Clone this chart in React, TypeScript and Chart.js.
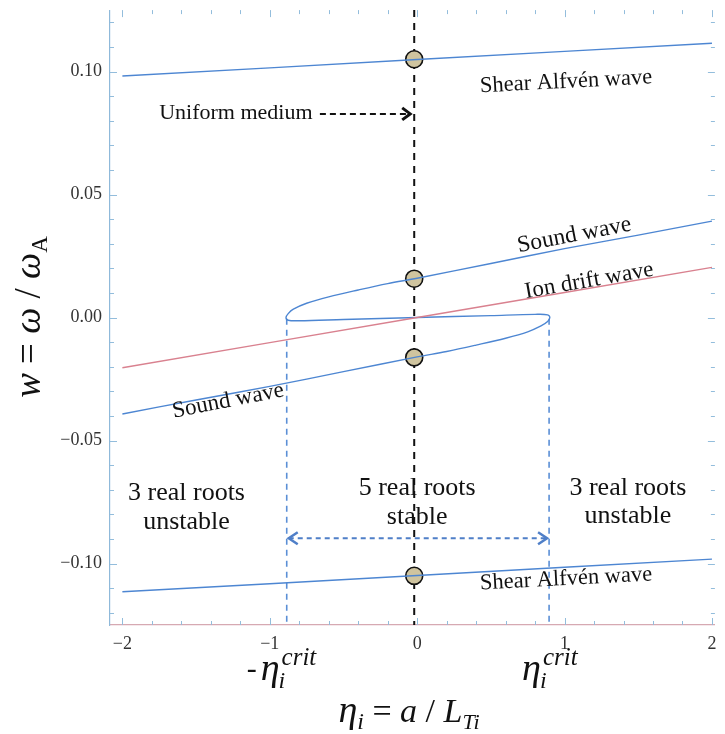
import React, { useEffect, useRef } from "react";
import { Chart, registerables } from "chart.js";
Chart.register(...registerables);

// ---- data ----
const alfvenEta = [-2, -1, 0, 1, 2];
const alfvenUpperW = [0.0982, 0.1015, 0.1049, 0.1082, 0.1115];
const alfvenLowerW = [-0.1115, -0.1082, -0.1049, -0.1015, -0.0982];

const ionDriftEta = [-2, -1, 0, 1, 2];
const ionDriftW = [-0.0204, -0.0102, 0, 0.0102, 0.0204];

const soundEta = [
  -2.0, -1.5, -1.0, -0.5, 0.0, 0.2, 0.4, 0.6, 0.75, 0.84, 0.885, 0.9,
  0.885, 0.8, 0.5, 0.0, -0.5, -0.8, -0.875, -0.89,
  -0.875, -0.84, -0.75, -0.6, -0.4, -0.2, 0.0, 0.5, 1.0, 1.5, 2.0,
];
const soundW = [
  -0.0392, -0.0335, -0.028, -0.022, -0.016, -0.0138, -0.0112, -0.0084, -0.0058, -0.0034, -0.0016, 0.0,
  0.0011, 0.0013, 0.0008, 0.0, -0.0008, -0.0013, -0.0011, 0.0,
  0.0016, 0.0034, 0.0058, 0.0084, 0.0112, 0.0138, 0.016, 0.022, 0.028, 0.0335, 0.0392,
];

const uniformEta = -0.02;
const rootW = [0.105, 0.0158, -0.0162, -0.105];
const critEta = [-0.885, 0.895];

const xTickValues = [-2, -1, 0, 1, 2];
const yTickValues = [-0.1, -0.05, 0, 0.05, 0.1];

const SERIF = '"Liberation Serif", "Times New Roman", Times, serif';
const BLUE = "#4d86d2";
const PINK = "#d9818f";

type Part = { t: string; size: number; italic?: boolean; dy?: number };

function drawRich(ctx: CanvasRenderingContext2D, parts: Part[], cx: number, cy: number) {
  let total = 0;
  const widths = parts.map((p) => {
    ctx.font = `${p.italic ? "italic " : ""}${p.size}px ${SERIF}`;
    const w = ctx.measureText(p.t).width;
    total += w;
    return w;
  });
  let x = cx - total / 2;
  ctx.textAlign = "left";
  ctx.textBaseline = "alphabetic";
  parts.forEach((p, i) => {
    ctx.font = `${p.italic ? "italic " : ""}${p.size}px ${SERIF}`;
    ctx.fillText(p.t, x, cy + (p.dy || 0));
    x += widths[i];
  });
}

function line(ctx: CanvasRenderingContext2D, x1: number, y1: number, x2: number, y2: number) {
  ctx.beginPath();
  ctx.moveTo(x1, y1);
  ctx.lineTo(x2, y2);
  ctx.stroke();
}

function etaCrit(ctx: CanvasRenderingContext2D, x: number, base: number, minus: boolean) {
  let cx = x;
  ctx.textAlign = "left";
  ctx.textBaseline = "alphabetic";
  if (minus) {
    ctx.font = `30px ${SERIF}`;
    ctx.fillText("-", cx, base - 2);
    cx += 14;
  }
  ctx.font = `italic 38px ${SERIF}`;
  ctx.fillText("η", cx, base);
  const ew = ctx.measureText("η").width;
  ctx.font = `italic 24px ${SERIF}`;
  ctx.fillText("i", cx + ew - 1, base + 8);
  ctx.font = `italic 25px ${SERIF}`;
  ctx.fillText("crit", cx + ew + 2, base - 15);
}

const annotPlugin = {
  id: "annot",
  beforeDatasetsDraw(chart: any) {
    const { ctx, chartArea: a, scales } = chart;
    const xs = scales.x;
    const ys = scales.y;
    ctx.save();
    // inner frame ticks
    ctx.strokeStyle = "#93bddc";
    ctx.lineWidth = 1;
    for (let i = -10; i <= 10; i++) {
      const v = i * 0.2;
      const px = Math.round(xs.getPixelForValue(v)) + 0.5;
      const len = i % 5 === 0 ? 7 : 4;
      line(ctx, px, a.bottom, px, a.bottom - len);
      line(ctx, px, a.top, px, a.top + len);
    }
    for (let i = -12; i <= 12; i++) {
      const v = i * 0.01;
      const py = Math.round(ys.getPixelForValue(v)) + 0.5;
      const len = i % 5 === 0 ? 7 : 4;
      line(ctx, a.left, py, a.left + len, py);
      line(ctx, a.right, py, a.right - len, py);
    }
    // black dashed vertical (uniform medium)
    const ux = xs.getPixelForValue(uniformEta);
    ctx.strokeStyle = "#111";
    ctx.lineWidth = 2;
    ctx.setLineDash([7, 6]);
    line(ctx, ux, a.top, ux, a.bottom);
    // blue dashed verticals at critical eta
    ctx.strokeStyle = "#5b8fd6";
    ctx.lineWidth = 1.6;
    ctx.setLineDash([6, 5]);
    critEta.forEach((e) => {
      const px = xs.getPixelForValue(e);
      line(ctx, px, ys.getPixelForValue(-0.0005), px, a.bottom);
    });
    // double arrow
    const ay = ys.getPixelForValue(-0.0897);
    const ax1 = xs.getPixelForValue(critEta[0]) + 2;
    const ax2 = xs.getPixelForValue(critEta[1]) - 2;
    ctx.strokeStyle = "#4f7fc8";
    ctx.lineWidth = 2;
    ctx.setLineDash([5, 4]);
    line(ctx, ax1, ay, ax2, ay);
    ctx.setLineDash([]);
    ctx.lineWidth = 2.5;
    ctx.beginPath();
    ctx.moveTo(ax1 + 9, ay - 6);
    ctx.lineTo(ax1, ay);
    ctx.lineTo(ax1 + 9, ay + 6);
    ctx.stroke();
    ctx.beginPath();
    ctx.moveTo(ax2 - 9, ay - 6);
    ctx.lineTo(ax2, ay);
    ctx.lineTo(ax2 - 9, ay + 6);
    ctx.stroke();
    // uniform medium arrow
    const uy = ys.getPixelForValue(0.0828);
    const ux1 = xs.getPixelForValue(-0.66);
    const ux2 = ux - 4;
    ctx.strokeStyle = "#111";
    ctx.lineWidth = 2;
    ctx.setLineDash([6, 4]);
    line(ctx, ux1, uy, ux2 - 4, uy);
    ctx.setLineDash([]);
    ctx.lineWidth = 3;
    ctx.beginPath();
    ctx.moveTo(ux2 - 8, uy - 6);
    ctx.lineTo(ux2, uy);
    ctx.lineTo(ux2 - 8, uy + 6);
    ctx.stroke();
    ctx.restore();
  },
  afterDatasetsDraw(chart: any) {
    const { ctx, scales } = chart;
    const xs = scales.x;
    const ys = scales.y;
    ctx.save();
    ctx.fillStyle = "#111";
    const rotText = (t: string, e: number, w: number, deg: number, size: number) => {
      const px = xs.getPixelForValue(e);
      const py = ys.getPixelForValue(w);
      ctx.save();
      ctx.translate(px, py);
      ctx.rotate((deg * Math.PI) / 180);
      ctx.font = `${size}px ${SERIF}`;
      ctx.textAlign = "center";
      ctx.textBaseline = "middle";
      ctx.fillText(t, 0, 0);
      ctx.restore();
    };
    rotText("Uniform medium", -1.23, 0.0832, 0, 22);
    rotText("Shear Alfvén wave", 1.01, 0.0958, -3, 22.5);
    rotText("Shear Alfvén wave", 1.01, -0.1063, -3, 22.5);
    rotText("Sound wave", 1.066, 0.0335, -11, 23.5);
    rotText("Ion drift wave", 1.167, 0.0149, -10, 23);
    rotText("Sound wave", -1.283, -0.0339, -11, 23);
    rotText("3 real roots", -1.565, -0.0715, 0, 26);
    rotText("unstable", -1.565, -0.0832, 0, 26);
    rotText("5 real roots", 0, -0.0695, 0, 26);
    rotText("stable", 0, -0.0812, 0, 26);
    rotText("3 real roots", 1.43, -0.0695, 0, 26);
    rotText("unstable", 1.43, -0.0808, 0, 26);
    ctx.restore();
  },
  afterDraw(chart: any) {
    const { ctx, scales } = chart;
    const xs = scales.x;
    ctx.save();
    ctx.fillStyle = "#111";
    const l = xs.getPixelForValue(critEta[0]);
    const r = xs.getPixelForValue(critEta[1]);
    etaCrit(ctx, l - 40, 680, true);
    etaCrit(ctx, r - 27, 680, false);
    // x title
    drawRich(ctx, [
      { t: "η", size: 38, italic: true },
      { t: "i", size: 24, italic: true, dy: 7 },
      { t: " = ", size: 34 },
      { t: "a", size: 34, italic: true },
      { t: " / ", size: 34 },
      { t: "L", size: 34, italic: true },
      { t: "Ti", size: 22, italic: true, dy: 7 },
    ], 409, 722);
    // y title
    ctx.translate(40, 317);
    ctx.rotate(-Math.PI / 2);
    drawRich(ctx, [
      { t: "w", size: 37, italic: true },
      { t: " = ", size: 37 },
      { t: "ω", size: 37, italic: true },
      { t: " / ", size: 37 },
      { t: "ω", size: 37, italic: true },
      { t: "A", size: 23, dy: 7 },
    ], 0, 0);
    ctx.restore();
  },
};

export default function App() {
  const ref = useRef<HTMLCanvasElement | null>(null);
  useEffect(() => {
    if (!ref.current) return;
    const xy = (xs: number[], ys: number[]) => xs.map((x, i) => ({ x, y: ys[i] }));
    const chart = new Chart(ref.current, {
      type: "scatter",
      data: {
        datasets: [
          { data: xy(ionDriftEta, ionDriftW), showLine: true, borderColor: PINK, borderWidth: 1.4, pointRadius: 0, tension: 0 },
          { data: xy(alfvenEta, alfvenUpperW), showLine: true, borderColor: BLUE, borderWidth: 1.4, pointRadius: 0, tension: 0 },
          { data: xy(alfvenEta, alfvenLowerW), showLine: true, borderColor: BLUE, borderWidth: 1.4, pointRadius: 0, tension: 0 },
          { data: xy(soundEta, soundW), showLine: true, borderColor: BLUE, borderWidth: 1.4, pointRadius: 0, tension: 0.35 },
          {
            data: rootW.map((w) => ({ x: uniformEta, y: w })),
            showLine: false,
            pointRadius: 8.5,
            pointBackgroundColor: "#cfc49f",
            pointBorderColor: "#111",
            pointBorderWidth: 1.6,
          },
        ],
      },
      options: {
        responsive: false,
        animation: false,
        devicePixelRatio: 1,
        layout: { padding: { left: 0, right: 0, top: 6, bottom: 0 } },
        plugins: { legend: { display: false }, tooltip: { enabled: false } },
        scales: {
          x: {
            type: "linear",
            min: -2.084,
            max: 2.02,
            grid: { display: false, drawTicks: false },
            border: { display: true, color: "#d6a9b2", width: 1.2 },
            ticks: {
              padding: 8,
              color: "#333",
              font: { family: SERIF, size: 18 },
              callback: (v: any) => (v < 0 ? "\u2212" + Math.abs(v) : String(v)),
            },
            afterBuildTicks: (s: any) => { s.ticks = xTickValues.map((value) => ({ value })); },
            afterFit: (s: any) => { s.height = 109; s.paddingLeft = 0; s.paddingRight = 0; },
          },
          y: {
            type: "linear",
            min: -0.125,
            max: 0.125,
            grid: { display: false, drawTicks: false },
            border: { display: true, color: "#8fb9da", width: 1.2 },
            ticks: {
              padding: 8,
              color: "#333",
              font: { family: SERIF, size: 18 },
              callback: (v: any) => (v < 0 ? "\u2212" + Math.abs(v).toFixed(2) : Number(v).toFixed(2)),
            },
            afterBuildTicks: (s: any) => { s.ticks = yTickValues.map((value) => ({ value })); },
            afterFit: (s: any) => { s.width = 110; s.paddingTop = 0; s.paddingBottom = 0; },
          },
        },
      },
      plugins: [annotPlugin],
    } as any);
    return () => chart.destroy();
  }, []);
  return (
    <div style={{ position: "absolute", left: 0, top: 0, width: 725, height: 734, background: "#fff" }}>
      <canvas ref={ref} width={725} height={734} />
    </div>
  );
}
